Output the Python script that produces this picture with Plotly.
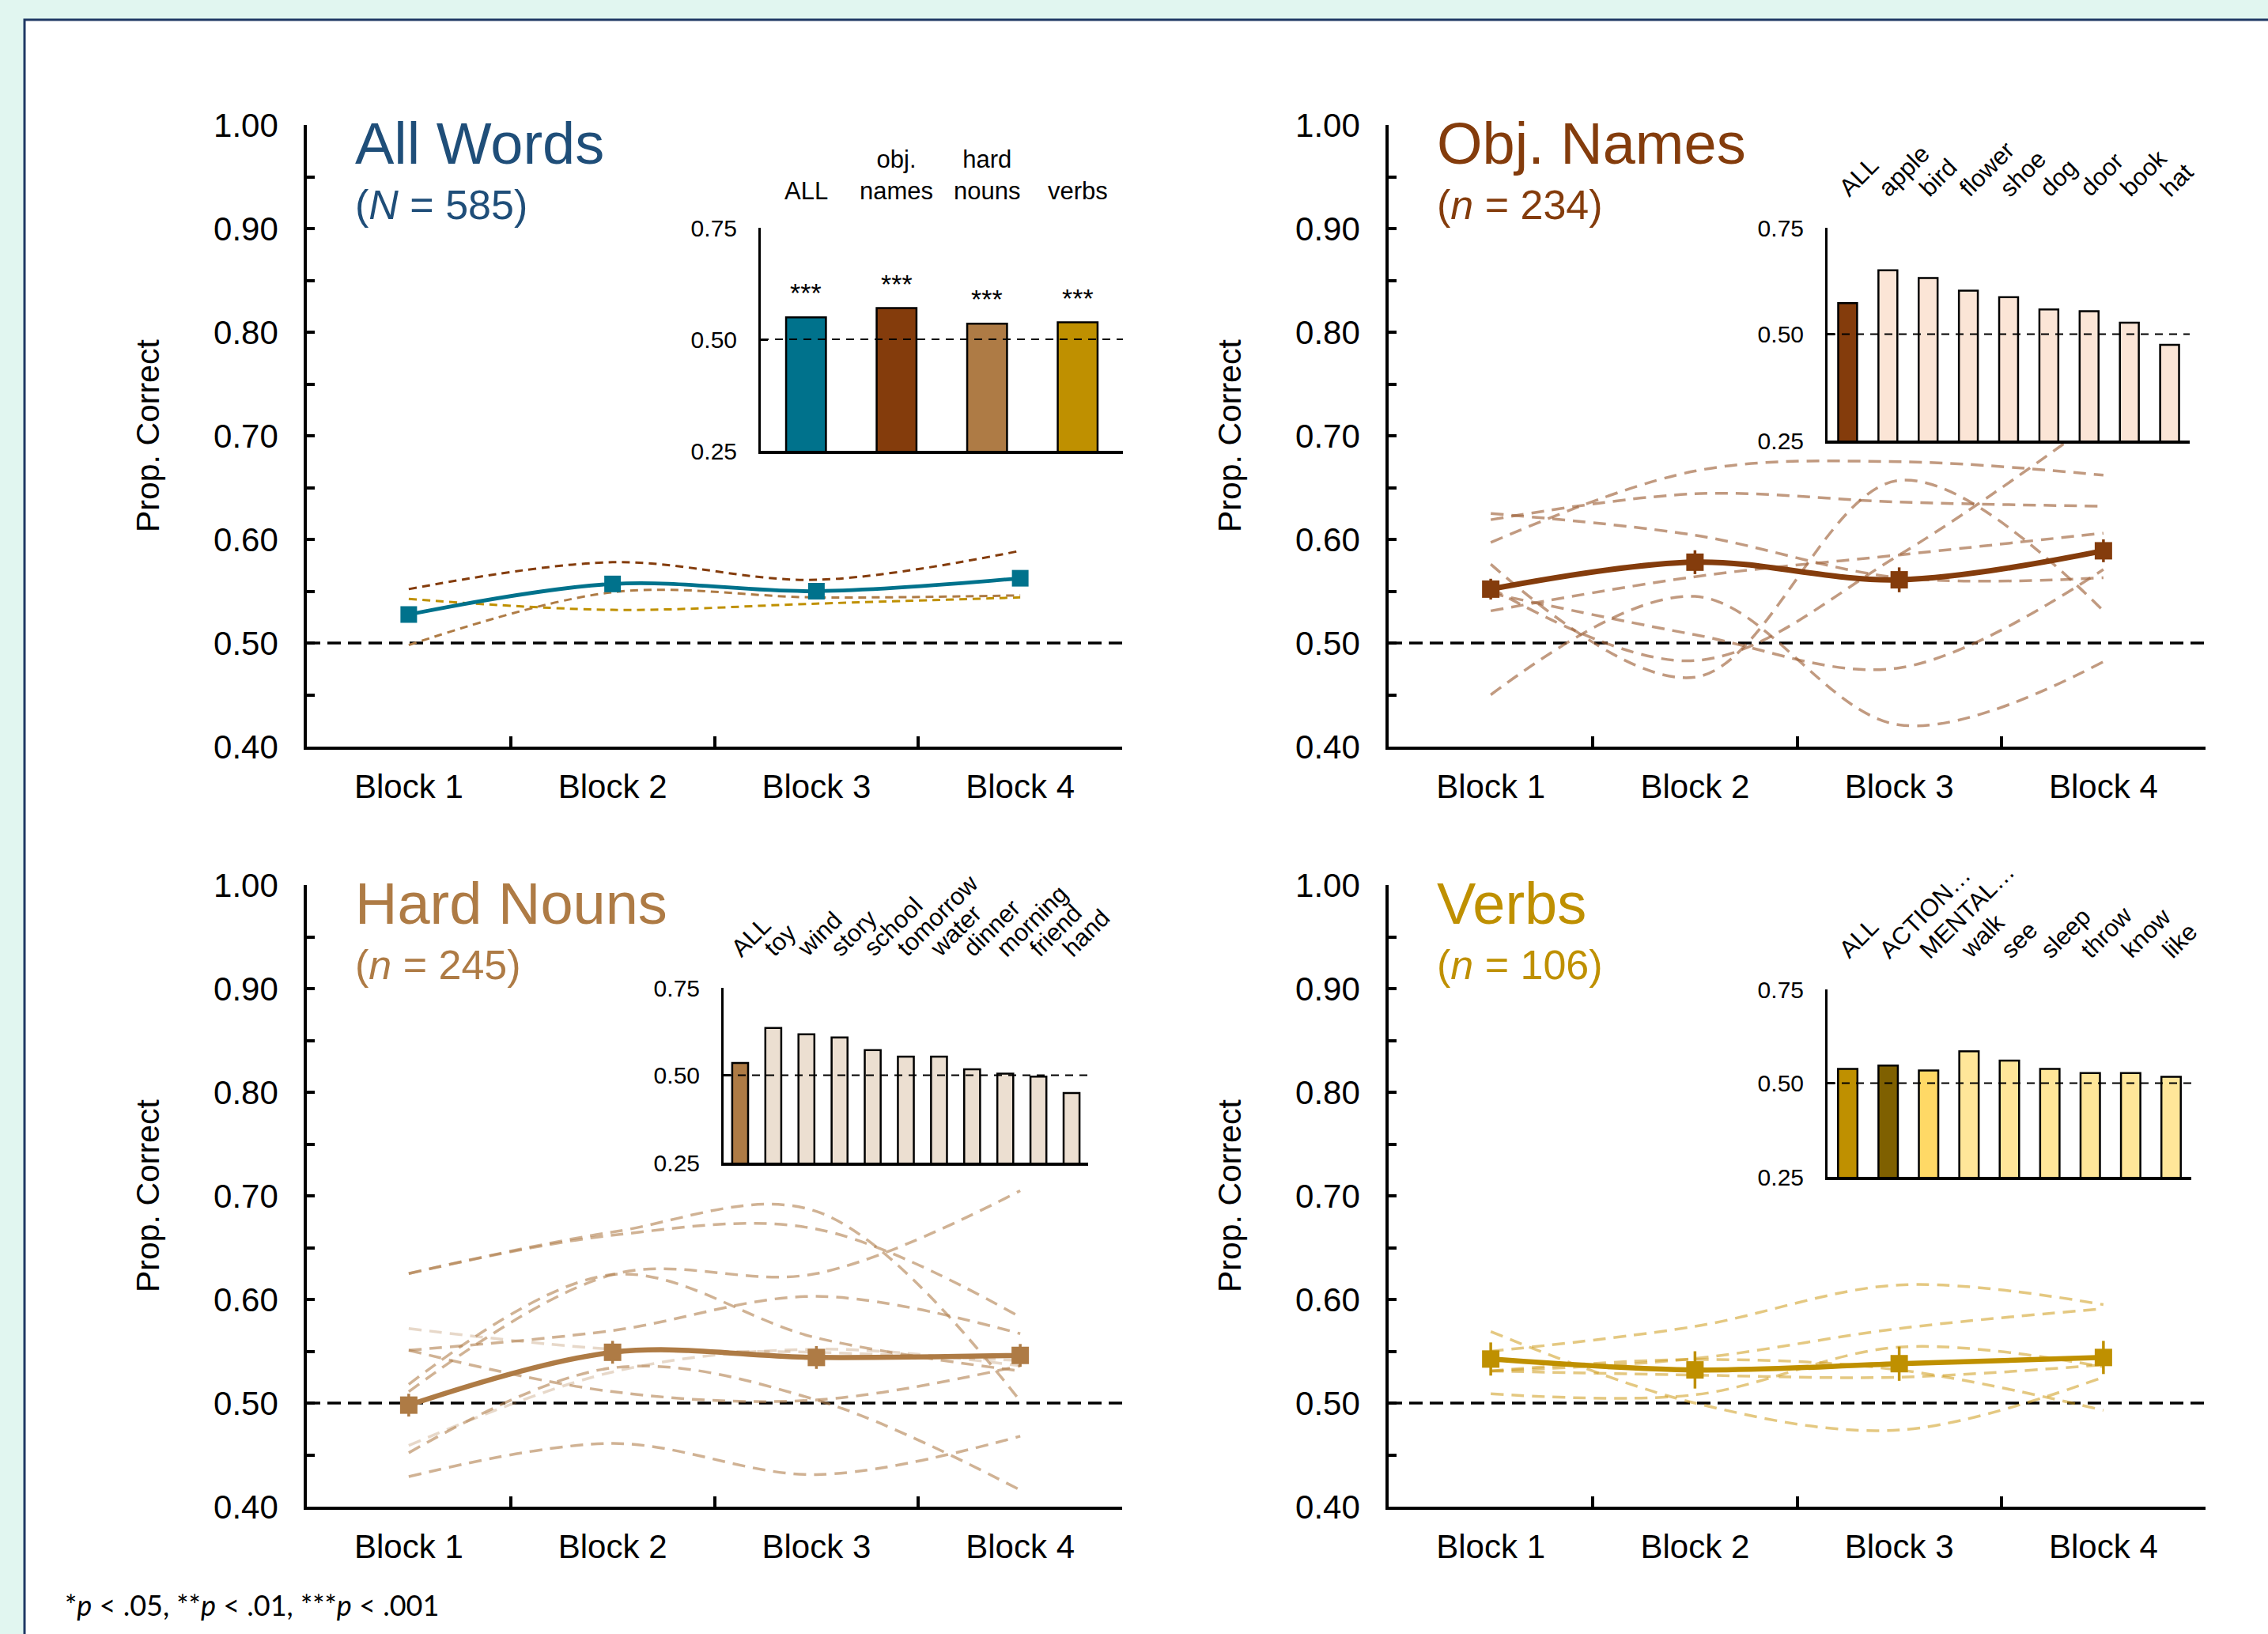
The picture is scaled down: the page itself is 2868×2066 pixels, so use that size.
import plotly.graph_objects as go

W, H = 2868, 2066
FONT = "Liberation Sans, Arial, sans-serif"

# ---------------- data ----------------
blocks = ["Block 1", "Block 2", "Block 3", "Block 4"]

all_mean = [0.5275, 0.557, 0.550, 0.5625]
obj_mean = [0.552, 0.578, 0.561, 0.589]
hard_mean = [0.498, 0.549, 0.544, 0.546]
verb_mean = [0.5425, 0.532, 0.538, 0.544]

obj_err = [0.010, 0.0115, 0.012, 0.011]
hard_err = [0.011, 0.011, 0.011, 0.011]
verb_err = [0.016, 0.018, 0.0165, 0.016]

obj_word_lines = [
    [0.597, 0.666, 0.675, 0.662],
    [0.619, 0.644, 0.636, 0.632],
    [0.625, 0.604, 0.563, 0.563],
    [0.576, 0.467, 0.657, 0.531],
    [0.553, 0.483, 0.585, 0.720],
    [0.531, 0.564, 0.585, 0.606],
    [0.450, 0.545, 0.421, 0.482],
    [0.548, 0.508, 0.476, 0.571],
]

hard_word_lines = [
    [0.625, 0.665, 0.685, 0.502],
    [0.625, 0.662, 0.668, 0.583],
    [0.511, 0.624, 0.625, 0.705],
    [0.518, 0.624, 0.563, 0.531],
    [0.551, 0.570, 0.603, 0.567],
    [0.551, 0.511, 0.503, 0.536],
    [0.459, 0.530, 0.552, 0.536],
    [0.452, 0.534, 0.503, 0.416],
    [0.572, 0.552, 0.549, 0.541],
    [0.429, 0.461, 0.431, 0.468],
]
hard_line_alpha = [0.6, 0.6, 0.6, 0.6, 0.6, 0.6, 0.3, 0.6, 0.3, 0.6]

verb_word_lines = [
    [0.550, 0.574, 0.614, 0.595],
    [0.531, 0.543, 0.572, 0.591],
    [0.569, 0.500, 0.474, 0.525],
    [0.509, 0.508, 0.554, 0.535],
    [0.531, 0.542, 0.532, 0.493],
    [0.531, 0.527, 0.525, 0.537],
]

summary_cats = ["ALL", "obj.<br>names", "hard<br>nouns", "verbs"]
summary_vals = [0.549, 0.570, 0.535, 0.538]
summary_sig = ["***", "***", "***", "***"]

obj_cats = ["ALL", "apple", "bird", "flower", "shoe", "dog", "door", "book", "hat"]
obj_vals = [0.573, 0.650, 0.632, 0.602, 0.587, 0.558, 0.554, 0.527, 0.475]

hard_cats = ["ALL", "toy", "wind", "story", "school", "tomorrow", "water",
             "dinner", "morning", "friend", "hand"]
hard_vals = [0.535, 0.635, 0.617, 0.608, 0.572, 0.553, 0.553, 0.517, 0.5045, 0.496, 0.449]

verb_cats = ["ALL", "ACTION…", "MENTAL…", "walk", "see", "sleep", "throw", "know", "like"]
verb_vals = [0.538, 0.547, 0.534, 0.585, 0.560, 0.538, 0.527, 0.527, 0.517]

# ---------------- styles ----------------
TEAL = "#00728c"
BROWN = "#843c0c"
TAN = "#ae7b45"
GOLD = "#bf9000"


def px_x(p):
    return p / W


def px_y(p):
    return 1 - p / H


MAIN = {
    1: (388, 1419, 158, 944),
    2: (1756, 2789, 158, 944),
    3: (388, 1419, 1119, 1905),
    4: (1756, 2789, 1119, 1905),
}
INSET = {
    5: (962, 1420, 288, 570),
    6: (2311, 2769, 288, 557),
    7: (915, 1376, 1249, 1470),
    8: (2311, 2771, 1251, 1488),
}


def dom(box):
    l, r, t, b = box
    return [px_x(l), px_x(r)], [px_y(b), px_y(t)]


fig = go.Figure()


def ax(n):
    return ("x" if n == 1 else f"x{n}"), ("y" if n == 1 else f"y{n}")


def word_lines(n, lines, color, alphas=None, width=3.5, dash="16px,10px"):
    xa, ya = ax(n)
    for i, vals in enumerate(lines):
        a = alphas[i] if alphas else 1.0
        fig.add_trace(go.Scatter(
            x=blocks, y=vals, mode="lines", xaxis=xa, yaxis=ya,
            line=dict(color=color, width=width, dash=dash, shape="spline", smoothing=1),
            opacity=a, showlegend=False, hoverinfo="skip"))


def main_line(n, vals, color, width, err=None, msize=22):
    xa, ya = ax(n)
    kw = {}
    if err is not None:
        kw["error_y"] = dict(type="data", array=err, color=color, thickness=3.5, width=0)
    fig.add_trace(go.Scatter(
        x=blocks, y=vals, mode="lines+markers", xaxis=xa, yaxis=ya,
        line=dict(color=color, width=width, shape="spline", smoothing=1),
        marker=dict(symbol="square", size=msize, color=color),
        showlegend=False, **kw))


word_lines(1, [obj_mean], BROWN, width=3, dash="10px,7px")
word_lines(1, [hard_mean], TAN, width=3, dash="10px,7px")
word_lines(1, [verb_mean], GOLD, width=3, dash="10px,7px")
main_line(1, all_mean, TEAL, 4.8, msize=21)

word_lines(2, obj_word_lines, "rgba(160,100,60,0.65)")
main_line(2, obj_mean, BROWN, 7, obj_err)

word_lines(3, hard_word_lines, "rgb(178,128,78)", alphas=hard_line_alpha)
main_line(3, hard_mean, TAN, 6.5, hard_err)

word_lines(4, verb_word_lines, "rgba(205,155,25,0.55)")
main_line(4, verb_mean, GOLD, 6.5, verb_err)


def inset_bars(n, cats, vals, colors, width):
    xa, ya = ax(n)
    fig.add_trace(go.Bar(
        x=cats, y=vals, xaxis=xa, yaxis=ya, width=width,
        marker=dict(color=colors, line=dict(color="black", width=2.5)),
        showlegend=False))


inset_bars(5, summary_cats, summary_vals, [TEAL, BROWN, TAN, GOLD], 0.44)
inset_bars(6, obj_cats, obj_vals, [BROWN] + ["#fbe5d6"] * (len(obj_cats) - 1), 0.47)
inset_bars(7, hard_cats, hard_vals, [TAN] + ["#ecdfd1"] * (len(hard_cats) - 1), 0.48)
inset_bars(8, verb_cats, verb_vals, [GOLD, "#7f6000", "#ffd966"] + ["#ffe699"] * (len(verb_cats) - 3), 0.48)

layout = dict(
    width=W, height=H, autosize=False,
    margin=dict(l=0, r=0, t=0, b=0, pad=0, autoexpand=False),
    paper_bgcolor="#e1f6f0", plot_bgcolor="white",
    font=dict(family=FONT, color="black"),
    showlegend=False,
)

for n, box in MAIN.items():
    xd, yd = dom(box)
    xa, ya = ax(n)
    xkey = "xaxis" if n == 1 else f"xaxis{n}"
    ykey = "yaxis" if n == 1 else f"yaxis{n}"
    layout[xkey] = dict(
        domain=xd, anchor=ya, type="category", categoryorder="array", categoryarray=blocks,
        range=[-0.5, 3.5], showline=True, linecolor="black", linewidth=3.5,
        ticks="inside", tickson="boundaries", ticklen=13, tickwidth=3.5, tickcolor="black",
        tickfont=dict(family=FONT, size=42, color="black"), ticklabelstandoff=11,
        showgrid=False, zeroline=False, fixedrange=True, automargin=False)
    layout[ykey] = dict(
        domain=yd, anchor=xa, range=[0.4, 1.0], tickmode="linear", tick0=0.4, dtick=0.1,
        tickformat=".2f", showline=True, linecolor="black", linewidth=3.5,
        ticks="inside", ticklen=10, tickwidth=3.5, tickcolor="black",
        minor=dict(tickmode="linear", tick0=0.4, dtick=0.05, ticks="inside",
                   ticklen=10, tickwidth=3.5, tickcolor="black", showgrid=False),
        tickfont=dict(family=FONT, size=42, color="black"), ticklabelstandoff=24,
        showgrid=False, zeroline=False, fixedrange=True, automargin=False)

inset_n = {5: len(summary_cats), 6: len(obj_cats), 7: len(hard_cats), 8: len(verb_cats)}
for n, box in INSET.items():
    xd, yd = dom(box)
    xa, ya = ax(n)
    layout[f"xaxis{n}"] = dict(
        domain=xd, anchor=ya, type="category", range=[-0.5, inset_n[n] - 0.5],
        showline=True, linecolor="black", linewidth=3.5, ticks="", showticklabels=False,
        showgrid=False, zeroline=False, fixedrange=True, automargin=False)
    layout[f"yaxis{n}"] = dict(
        domain=yd, anchor=xa, range=[0.25, 0.75], tickvals=[0.25, 0.5, 0.75],
        tickformat=".2f", showline=True, linecolor="black", linewidth=3,
        ticks="inside", ticklen=9, tickwidth=3, tickcolor="black",
        tickfont=dict(family=FONT, size=30, color="black"), ticklabelstandoff=21,
        showgrid=False, zeroline=False, fixedrange=True, automargin=False)

fig.update_layout(**layout)

shapes = [dict(type="rect", xref="paper", yref="paper", x0=px_x(31), x1=1.05,
               y0=-0.05, y1=px_y(25), fillcolor="white",
               line=dict(color="#1f3864", width=3), layer="below")]
for n in MAIN:
    xa, ya = ax(n)
    shapes.append(dict(type="line", xref=f"{xa} domain", yref=ya, x0=0, x1=1, y0=0.5, y1=0.5,
                       line=dict(color="black", width=3.5, dash="17px,9px"), layer="below"))
for n in INSET:
    xa, ya = ax(n)
    shapes.append(dict(type="line", xref=f"{xa} domain", yref=ya, x0=0, x1=1, y0=0.5, y1=0.5,
                       line=dict(color="black", width=2.2, dash="10px,8px"), layer="above"))
fig.update_layout(shapes=shapes)

ann = []
titles = [
    (1, "All Words", "(<i>N</i> = 585)", "#1f4e79"),
    (2, "Obj. Names", "(<i>n</i> = 234)", BROWN),
    (3, "Hard Nouns", "(<i>n</i> = 245)", TAN),
    (4, "Verbs", "(<i>n</i> = 106)", GOLD),
]
for n, t, sub, col in titles:
    l, r, top, b = MAIN[n]
    ann.append(dict(xref="paper", yref="paper", x=px_x(l + 59), y=px_y(top + 49 - 0.35 * 74),
                    text=t, showarrow=False, xanchor="left", yanchor="middle",
                    font=dict(family=FONT, size=74, color=col)))
    ann.append(dict(xref="paper", yref="paper", x=px_x(l + 59), y=px_y(top + 119 - 0.35 * 52),
                    text=sub, showarrow=False, xanchor="left", yanchor="middle",
                    font=dict(family=FONT, size=52, color=col)))
    ann.append(dict(xref="paper", yref="paper", x=px_x(l - 201), y=px_y((top + b) / 2),
                    text="Prop. Correct", textangle=-90, showarrow=False,
                    xanchor="center", yanchor="middle",
                    font=dict(family=FONT, size=41, color="black")))

for c in summary_cats:
    ann.append(dict(xref="x5", yref="y5", x=c, y=0.75, text=c, showarrow=False,
                    xanchor="center", yanchor="bottom", yshift=27,
                    font=dict(family=FONT, size=31, color="black")))
for c, v, s in zip(summary_cats, summary_vals, summary_sig):
    ann.append(dict(xref="x5", yref="y5", x=c, y=v, text=s, showarrow=False,
                    xanchor="center", yanchor="bottom", yshift=10,
                    font=dict(family=FONT, size=34, color="black")))
for n, cats in ((6, obj_cats), (7, hard_cats), (8, verb_cats)):
    xa, ya = ax(n)
    for c in cats:
        ann.append(dict(xref=xa, yref=ya, x=c, y=0.75, text=c, showarrow=False,
                        textangle=-45, xanchor="left", yanchor="bottom",
                        xshift=-21, yshift=30,
                        font=dict(family=FONT, size=31, color="black")))

ann.append(dict(xref="paper", yref="paper", x=px_x(80), y=px_y(2042 - 0.35 * 36),
                text="*<i>p</i> &lt; .05, **<i>p</i> &lt; .01, ***<i>p</i> &lt; .001",
                showarrow=False, xanchor="left", yanchor="middle",
                font=dict(family="Lato, Open Sans, sans-serif", size=36, color="black")))

fig.update_layout(annotations=ann)

post = "document.body.style.margin='0';document.body.style.padding='0';"
fig.write_html("out.html", post_script=post, config={"displayModeBar": False})
